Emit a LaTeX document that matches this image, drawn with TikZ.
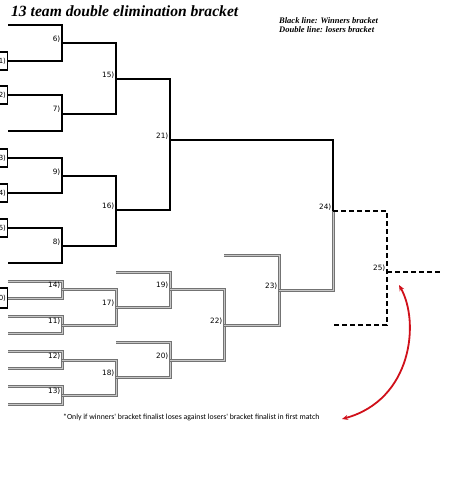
\documentclass[tikz,border=0pt]{standalone}
\usepackage{fontspec}
\setmainfont{Liberation Serif}
\newfontfamily\lblfont{DejaVu Sans}
\newfontfamily\notefont{Carlito}
\usetikzlibrary{arrows.meta}
\definecolor{arrowred}{HTML}{D0101A}
\tikzset{
  winline/.style={draw=black, line width=1.6pt, line join=miter},
  loseline/.style={draw=black!55, line width=1.0pt, double=black!22, double distance=1.0pt, line join=miter},
  finline/.style={draw=black, line width=1.6pt, dash pattern=on 5pt off 3pt},
  mlabel/.style={anchor=base east, inner sep=0pt, font=\lblfont\fontsize{7.3}{8}\selectfont},
  seedbox/.style={draw=black, line width=1.1pt, minimum width=20pt, inner sep=0pt, anchor=east,
                  font=\lblfont\fontsize{7}{8}\selectfont, align=right, text width=17pt},
}
\begin{document}
\begin{tikzpicture}[x=1pt, y=-1pt]
\clip (0,0) rectangle (474,495);
\fill[white] (0,0) rectangle (474,495);

% title and legend
\node[anchor=base west, inner sep=0pt, font=\bfseries\itshape\fontsize{15.6}{18}\selectfont] (title) at (11,17) {13 team double elimination bracket};
\node[anchor=base west, inner sep=0pt, font=\bfseries\itshape\fontsize{8.5}{9}\selectfont, align=left] (legend) at (279,33) {Black line: Winners bracket\\Double line: losers bracket};

% seed boxes
\node[seedbox, minimum height=18pt] (s1) at (8,61) {1)};
\node[seedbox, minimum height=18pt] (s2) at (8,95) {2)};
\node[seedbox, minimum height=18pt] (s3) at (8,158) {3)};
\node[seedbox, minimum height=18pt] (s4) at (8,193) {4)};
\node[seedbox, minimum height=18pt] (s5) at (8,228) {5)};
\node[seedbox, minimum height=20pt] (s10) at (8,298) {10)};

% winners bracket
\draw[winline] (8,25) -- (62,25) -- (62,61) -- (s1.east);
\draw[winline] (s2.east) -- (62,95) -- (62,131) -- (8,131);
\draw[winline] (s3.east) -- (62,158) -- (62,193) -- (s4.east);
\draw[winline] (s5.east) -- (62,228) -- (62,263) -- (8,263);
\draw[winline] (62,43) -- (116,43) -- (116,114) -- (62,114);
\draw[winline] (62,176) -- (116,176) -- (116,246) -- (62,246);
\draw[winline] (116,79) -- (170,79) -- (170,210) -- (116,210);
\draw[winline] (170,140) -- (333,140) -- (333,211);

% losers bracket
\draw[loseline] (8,281) -- (62,281) -- (62,298) -- (s10.east);
\draw[loseline] (8,316) -- (62,316) -- (62,333) -- (8,333);
\draw[loseline] (8,351) -- (62,351) -- (62,368) -- (8,368);
\draw[loseline] (8,386) -- (62,386) -- (62,404) -- (8,404);
\draw[loseline] (62,289) -- (116,289) -- (116,325) -- (62,325);
\draw[loseline] (62,360) -- (116,360) -- (116,395) -- (62,395);
\draw[loseline] (116,272) -- (170,272) -- (170,307) -- (116,307);
\draw[loseline] (116,342) -- (170,342) -- (170,377) -- (116,377);
\draw[loseline] (170,289) -- (224,289) -- (224,360) -- (170,360);
\draw[loseline] (224,255) -- (279,255) -- (279,325) -- (224,325);
\draw[loseline] (279,290) -- (333,290) -- (333,211);

% finals (dashed)
\draw[finline] (333,211) -- (387,211) -- (387,325) -- (333,325);
\draw[finline] (387,272) -- (441,272);

% match labels
\foreach \n/\x/\y in {6/62/43, 7/62/113, 9/62/176, 8/62/246, 15/116/79, 16/116/210, 21/170/140,
  24/333/211, 25/387/272, 14/62/289, 11/62/325, 12/62/360, 13/62/395, 17/116/307, 18/116/377,
  19/170/289, 20/170/360, 22/224/325, 23/279/290}
  \node[mlabel] (m\n) at (\x-1.5,\y-1.5) {\n)};

% footnote and arrow
\node[anchor=base west, inner sep=0pt, font=\notefont\fontsize{7.8}{9}\selectfont] (note) at (63,419) {*Only if winners' bracket finalist loses against losers' bracket finalist in first match};
\coordinate (atop) at (399,285);
\coordinate (abot) at (342,419);
\draw[arrowred, line width=1.8pt, {Stealth[length=6pt,width=5pt]}-{Stealth[length=6pt,width=5pt]}]
  (atop) .. controls (420,322) and (412,400) .. (abot);
\end{tikzpicture}
\end{document}
